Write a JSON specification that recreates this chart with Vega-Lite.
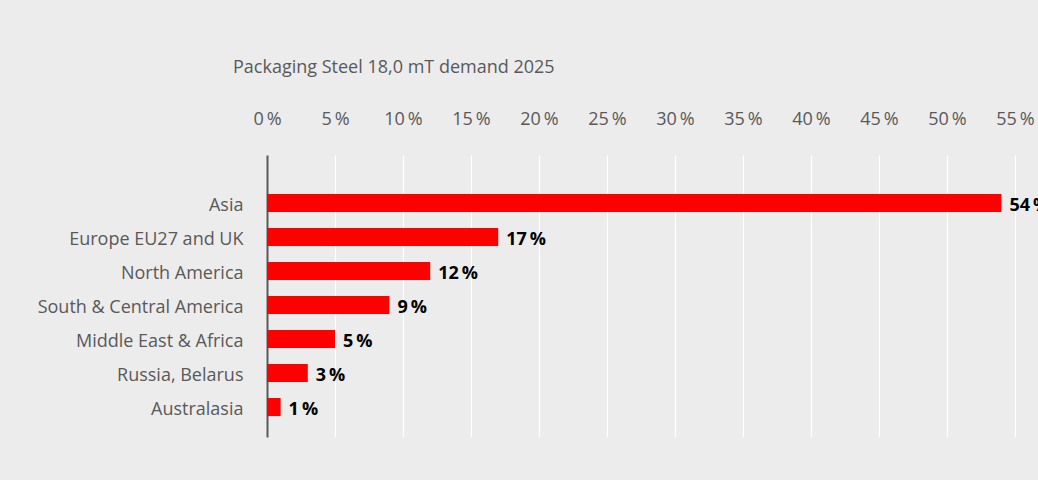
{
  "$schema": "https://vega.github.io/schema/vega-lite/v6.json",
  "autosize": {"type": "none"},
  "width": 748,
  "height": 282,
  "padding": {"left": 267, "top": 155, "right": 23, "bottom": 43},
  "background": "#ececec",
  "title": {
    "text": "Packaging Steel 18,0 mT demand 2025",
    "anchor": "start",
    "frame": "group",
    "dx": -34,
    "offset": 33,
    "font": "Open Sans",
    "fontSize": 18,
    "fontWeight": "normal",
    "color": "#595959"
  },
  "config": {
    "view": {"stroke": null},
    "font": "Open Sans"
  },
  "data": {
    "values": [
      {"region": "Asia", "share": 54},
      {"region": "Europe EU27 and UK", "share": 17},
      {"region": "North America", "share": 12},
      {"region": "South & Central America", "share": 9},
      {"region": "Middle East & Africa", "share": 5},
      {"region": "Russia, Belarus", "share": 3},
      {"region": "Australasia", "share": 1}
    ]
  },
  "encoding": {
    "y": {
      "field": "region",
      "type": "nominal",
      "sort": null,
      "scale": {"paddingInner": 0.47, "paddingOuter": 0.88, "align": 0.65},
      "axis": {
        "title": null,
        "ticks": false,
        "labelPadding": 24,
        "labelLimit": 0,
        "labelOffset": 3,
        "labelFont": "Open Sans",
        "labelFontSize": 18,
        "labelColor": "#595959",
        "domainColor": "#595959",
        "domainWidth": 2,
        "grid": false
      }
    },
    "x": {
      "field": "share",
      "type": "quantitative",
      "scale": {"domain": [0, 55], "nice": false},
      "axis": {
        "orient": "top",
        "title": null,
        "values": [0, 5, 10, 15, 20, 25, 30, 35, 40, 45, 50, 55],
        "labelExpr": "datum.value + '\u2009%'",
        "labelFont": "Open Sans",
        "labelFontSize": 18,
        "labelColor": "#595959",
        "labelPadding": 27,
        "labelOverlap": false,
        "labelFlush": false,
        "ticks": false,
        "domain": false,
        "grid": true,
        "gridColor": "#ffffff",
        "gridWidth": 1.2
      }
    }
  },
  "layer": [
    {"mark": {"type": "bar", "color": "#ff0000"}},
    {
      "mark": {"type": "text", "align": "left", "baseline": "middle", "dx": 8, "dy": 3, "font": "Open Sans", "fontSize": 18, "fontWeight": "bold", "color": "#000000", "text": {"expr": "datum.share + '\u2009%'"}}
    }
  ]
}
